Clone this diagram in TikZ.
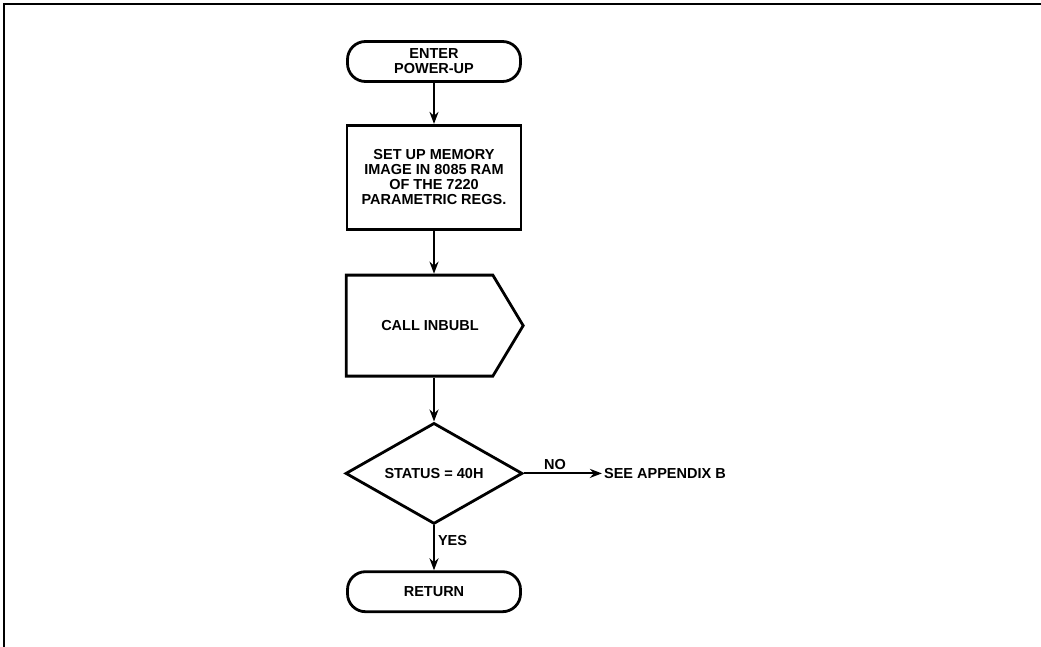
\documentclass[tikz,border=0pt]{standalone}
\usepackage{fontspec}
\setmainfont{Liberation Sans}
\usetikzlibrary{arrows.meta,positioning,shapes.geometric,shapes.symbols}
\newcommand{\flowfont}{\bfseries\fontsize{14.5}{15}\selectfont}
\tikzset{
      myterminal/.style={
        draw,
        line width=2.8pt,
        rounded corners=18pt,
        align=center,
        font=\flowfont,
        minimum width=173pt,
        minimum height=40pt
      },
      myprocess/.style={
        draw,
        line width=2.8pt,
        align=center,
        font=\flowfont,
        minimum width=174pt,
        minimum height=104pt
      },
      mycall/.style={
        draw,
        signal,
        signal to=east,
        signal pointer angle=118,
        line width=2.8pt,
        font=\flowfont,
        minimum width=177pt,
        minimum height=101pt
      },
      mydecision/.style={
        draw,
        diamond,
        shape aspect=1.74,
        inner sep=0pt,
        line width=2.8pt,
        font=\flowfont,
        minimum width=177pt,
        minimum height=101pt
      },
      mytext/.style={
        font=\flowfont,
        inner sep=#1
      },
      myarrow/.style={
        line width=2pt,
        -{Stealth[length=12pt,width=9pt]}
      }
    }

\begin{document}
\begin{tikzpicture}

          \useasboundingbox (0,0) rectangle (1041pt,-647pt);

          % page rule, top and left
          \draw[line width=2.5pt] (1041pt,-4pt) -- (4pt,-4pt) -- (4pt,-647pt);

          \node[myterminal]
            at (434pt,-61.5pt)
            (enter)
            {ENTER\\POWER-UP};
          \node[myprocess,below=41pt of enter]
            (memimage)
            {SET UP MEMORY\\IMAGE IN 8085 RAM\\OF THE 7220\\PARAMETRIC REGS.};
          % signal body is centred on its text, so pull it left
          \node[mycall,below=43pt of memimage.south,anchor=north,xshift=-14.5pt]
            (inbubl)
            {\hspace*{21pt}CALL INBUBL};
          \node[mydecision,below=44pt of inbubl.south-|memimage.south,anchor=north]
            (status)
            {STATUS = 40H};
          \node[myterminal,below=45pt of status]
            (return)
            {RETURN};
          \node[mytext=2pt,right=78pt of status]
            (appendix)
            {SEE APPENDIX B};

          \draw [myarrow] (enter) -- (memimage);
          \draw [myarrow] (memimage.south) -- (memimage.south|-inbubl.north);
          \draw [myarrow] (inbubl.south-|status.north) -- (status);
          \draw [myarrow] (status) -- node[mytext=3pt,above,pos=0.4] {NO} (appendix);
          \draw [myarrow] (status) -- node[mytext=3pt,right,pos=0.33] {YES} (return);
        \end{tikzpicture}
\end{document}
